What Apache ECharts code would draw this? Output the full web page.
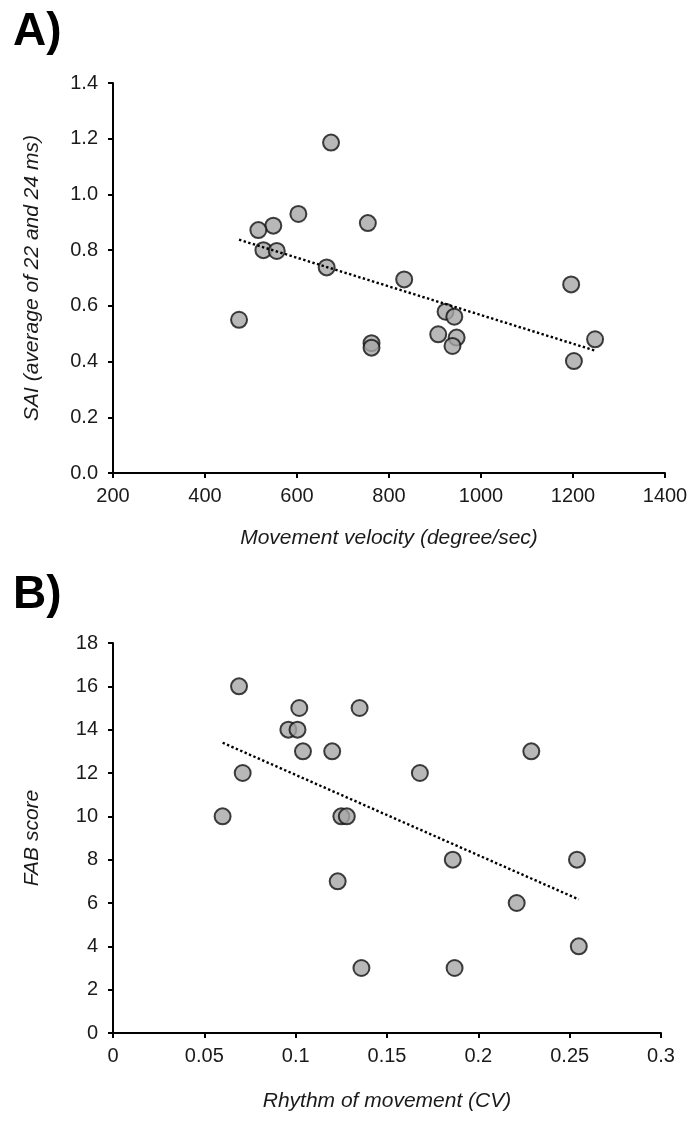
<!DOCTYPE html>
<html>
<head>
<meta charset="utf-8">
<script src="https://cdn.jsdelivr.net/npm/echarts@6/dist/echarts.min.js"></script>
<style>
html,body{margin:0;padding:0;background:#fff;}
#chart{width:692px;height:1121px;}
</style>
</head>
<body>
<div id="chart"></div>
<script>
// Panel A: Movement velocity vs SAI
const velocity = [674, 603, 548.5, 516, 527, 556, 754, 664.5, 833, 474, 762, 762, 923, 942, 907, 947, 938, 1196, 1248, 1202];
const sai = [1.186, 0.930, 0.888, 0.872, 0.800, 0.797, 0.897, 0.738, 0.695, 0.550, 0.466, 0.450, 0.579, 0.561, 0.498, 0.486, 0.456, 0.677, 0.480, 0.402];
// Panel B: Rhythm of movement (CV) vs FAB score
const rhythmCV = [0.069, 0.102, 0.096, 0.101, 0.104, 0.120, 0.071, 0.060, 0.125, 0.128, 0.135, 0.229, 0.168, 0.186, 0.254, 0.123, 0.221, 0.255, 0.136, 0.187];
const fab = [16, 15, 14, 14, 13, 13, 12, 10, 10, 10, 15, 13, 12, 8, 8, 7, 6, 4, 3, 3];

const xTicksA = [200, 1400, 200];   // min, max, interval
const yTicksA = [0, 1.4, 0.2];
const xTicksB = [0, 0.3, 0.05];
const yTicksB = [0, 18, 2];

function regressionLine(xs, ys) {
  const n = xs.length;
  let mx = 0, my = 0;
  for (let i = 0; i < n; i++) { mx += xs[i]; my += ys[i]; }
  mx /= n; my /= n;
  let sxy = 0, sxx = 0;
  for (let i = 0; i < n; i++) { sxy += (xs[i]-mx)*(ys[i]-my); sxx += (xs[i]-mx)*(xs[i]-mx); }
  const b = sxy / sxx, a = my - b*mx;
  const x0 = Math.min(...xs), x1 = Math.max(...xs);
  return [[x0, a + b*x0], [x1, a + b*x1]];
}

const FONT = "'Liberation Sans', Arial, sans-serif";
const axisLineStyle = {show:true, lineStyle:{color:'#000', width:2}};
const axisTickStyle = {show:true, length:5, lineStyle:{color:'#000', width:2}};
const labelStyle = {color:'#1a1a1a', fontSize:20, fontFamily:FONT};
const nameStyle = {color:'#1a1a1a', fontSize:21, fontFamily:FONT, fontStyle:'italic'};

const chart = echarts.init(document.getElementById('chart'), null, {renderer:'canvas'});

const markerStyle = {color:'#a6a6a6', borderColor:'#111', borderWidth:2};
const trendStyle = {color:'#000', width:2.4, type:[2.4, 2.4]};

chart.setOption({
  animation:false,
  backgroundColor:'#fff',
  graphic:[
    {type:'text', left:13, top:9, style:{text:'A)', fontSize:46, fontWeight:'bold', fontFamily:FONT, fill:'#000'}},
    {type:'text', left:13, top:572, style:{text:'B)', fontSize:46, fontWeight:'bold', fontFamily:FONT, fill:'#000'}}
  ],
  grid:[
    {left:113, top:83, width:552, height:390},
    {left:113, top:643, width:548, height:390}
  ],
  xAxis:[
    {gridIndex:0, type:'value', min:xTicksA[0], max:xTicksA[1], interval:xTicksA[2],
     name:'Movement velocity (degree/sec)', nameLocation:'middle', nameGap:55, nameTextStyle:nameStyle,
     axisLine:axisLineStyle, axisTick:axisTickStyle, splitLine:{show:false},
     axisLabel:Object.assign({margin:13, formatter:function(v){return String(v);}}, labelStyle)},
    {gridIndex:1, type:'value', min:xTicksB[0], max:xTicksB[1], interval:xTicksB[2],
     name:'Rhythm of movement (CV)', nameLocation:'middle', nameGap:58, nameTextStyle:nameStyle,
     axisLine:axisLineStyle, axisTick:axisTickStyle, splitLine:{show:false},
     axisLabel:Object.assign({margin:13, formatter:function(v){return String(+v.toFixed(2));}}, labelStyle)}
  ],
  yAxis:[
    {gridIndex:0, type:'value', min:yTicksA[0], max:yTicksA[1], interval:yTicksA[2],
     name:'SAI (average of 22 and 24 ms)', nameLocation:'middle', nameGap:70, nameTextStyle:nameStyle,
     axisLine:axisLineStyle, axisTick:axisTickStyle, splitLine:{show:false},
     axisLabel:Object.assign({margin:15, formatter:function(v){return v.toFixed(1);}}, labelStyle)},
    {gridIndex:1, type:'value', min:yTicksB[0], max:yTicksB[1], interval:yTicksB[2],
     name:'FAB score', nameLocation:'middle', nameGap:70, nameTextStyle:nameStyle,
     axisLine:axisLineStyle, axisTick:axisTickStyle, splitLine:{show:false},
     axisLabel:Object.assign({margin:15}, labelStyle)}
  ],
  series:[
    {type:'scatter', xAxisIndex:0, yAxisIndex:0, symbolSize:16, itemStyle:markerStyle,
     data: velocity.map((v,i)=>[v, sai[i]]), z:2},
    {type:'line', xAxisIndex:0, yAxisIndex:0, showSymbol:false, lineStyle:trendStyle,
     data: regressionLine(velocity, sai), z:3},
    {type:'scatter', xAxisIndex:1, yAxisIndex:1, symbolSize:16, itemStyle:markerStyle,
     data: rhythmCV.map((v,i)=>[v, fab[i]]), z:2},
    {type:'line', xAxisIndex:1, yAxisIndex:1, showSymbol:false, lineStyle:trendStyle,
     data: regressionLine(rhythmCV, fab), z:3}
  ]
});
</script>
</body>
</html>
